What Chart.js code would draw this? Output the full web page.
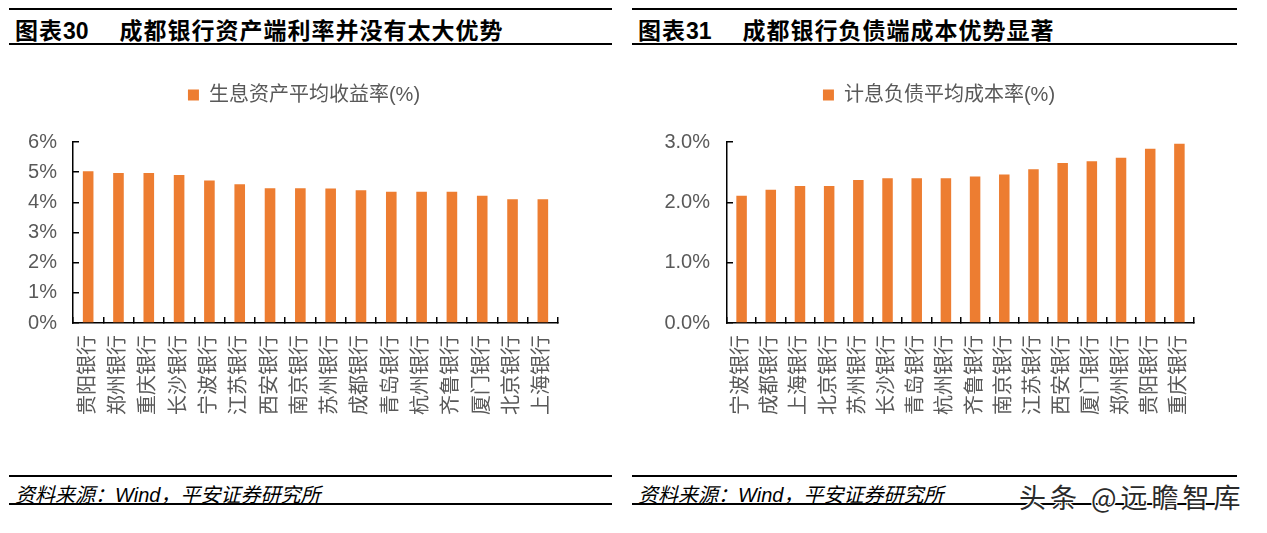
<!DOCTYPE html>
<html>
<head>
<meta charset="utf-8">
<script src="https://cdn.jsdelivr.net/npm/chart.js@4"></script>
<style>
  body { margin: 0; background: #fff; width: 1267px; height: 533px; position: relative; overflow: hidden; }
  .rule { position: absolute; height: 2px; background: #000; }
  .title { position: absolute; top: 12px; font: bold 23px "Noto Sans CJK SC", sans-serif; letter-spacing: 1px; color: #000; white-space: nowrap; }
  .title .num { font-family: "Liberation Sans", Arial, sans-serif; letter-spacing: 0; margin-right: 31px; }
  .src { position: absolute; top: 479px; font: italic 20px "Liberation Sans", "Noto Sans CJK SC", sans-serif; color: #000; white-space: nowrap; }
  .box { position: absolute; top: 60px; height: 380px; }
  .mark { position: absolute; left: 1019px; top: 477px; font: 27px "Noto Sans CJK SC", sans-serif; letter-spacing: 4px; color: #2a2a2a;
          text-shadow: 1px 1px 0 #fff, -1px -1px 0 #fff, 1px -1px 0 #fff, -1px 1px 0 #fff; white-space: nowrap; }
</style>
</head>
<body>
<div class="rule" style="left:9px;width:603px;top:8px"></div>
<div class="title" style="left:15px">图表<span class="num">30</span>成都银行资产端利率并没有太大优势</div>
<div class="rule" style="left:9px;width:603px;top:43px"></div>

<div class="rule" style="left:632px;width:605px;top:8px"></div>
<div class="title" style="left:638px">图表<span class="num">31</span>成都银行负债端成本优势显著</div>
<div class="rule" style="left:632px;width:605px;top:43px"></div>

<div class="box" style="left:0;width:620px"><canvas id="assetChart" width="620" height="380"></canvas></div>
<div class="box" style="left:620px;width:647px"><canvas id="costChart" width="647" height="380"></canvas></div>

<div class="rule" style="left:9px;width:603px;top:475px"></div>
<div class="src" style="left:15px">资料来源：Wind，平安证券研究所</div>
<div class="rule" style="left:9px;width:603px;top:503px"></div>

<div class="rule" style="left:632px;width:605px;top:475px"></div>
<div class="src" style="left:638px">资料来源：Wind，平安证券研究所</div>
<div class="rule" style="left:632px;width:605px;top:503px"></div>

<div class="mark">头条 @远瞻智库</div>

<script>
// 图表30 生息资产平均收益率
const assetBanks = ['贵阳银行', '郑州银行', '重庆银行', '长沙银行', '宁波银行', '江苏银行', '西安银行', '南京银行',
    '苏州银行', '成都银行', '青岛银行', '杭州银行', '齐鲁银行', '厦门银行', '北京银行', '上海银行'];
const assetYield = [5.03, 4.97, 4.97, 4.91, 4.72, 4.60, 4.47, 4.47, 4.46, 4.40, 4.35, 4.35, 4.35, 4.22, 4.10, 4.10];
const assetTicks = [0, 1, 2, 3, 4, 5, 6];

// 图表31 计息负债平均成本率
const costBanks = ['宁波银行', '成都银行', '上海银行', '北京银行', '苏州银行', '长沙银行', '青岛银行', '杭州银行',
    '齐鲁银行', '南京银行', '江苏银行', '西安银行', '厦门银行', '郑州银行', '贵阳银行', '重庆银行'];
const costRate = [2.11, 2.21, 2.27, 2.27, 2.37, 2.40, 2.40, 2.40, 2.43, 2.46, 2.55, 2.65, 2.68, 2.74, 2.89, 2.97];
const costTicks = [0, 1, 2, 3];

const ORANGE = '#ED7D31';
const GREY = '#595959';
const CJK = '"Liberation Sans", "Noto Sans CJK SC", sans-serif';

// legend sits well above the plot and a bit right of the box centre
const legendGap = {
    id: 'legendGap',
    beforeInit(chart) {
        const fit = chart.legend.fit;
        chart.legend.fit = function () {
            fit.bind(chart.legend)();
            this.height += 27;
        };
    },
    afterLayout(chart, args, opts) {
        chart.legend.left += opts.shift;
        chart.legend.right += opts.shift;
    }
};

function makeChart(id, labels, values, name, ticks, opts) {
    const ctx = document.getElementById(id).getContext('2d');
    return new Chart(ctx, {
        type: 'bar',
        data: {
            labels: labels,
            datasets: [{
                label: name,
                data: values,
                backgroundColor: ORANGE,
                barPercentage: opts.bar,
                categoryPercentage: 1
            }]
        },
        options: {
            responsive: false,
            animation: false,
            layout: { padding: { left: 0, right: opts.padRight, top: 15, bottom: 17 } },
            plugins: {
                legendGap: { shift: opts.shift },
                legend: {
                    labels: {
                        boxWidth: 11, boxHeight: 11, padding: 10,
                        color: GREY, font: { size: 20, family: CJK }
                    }
                },
                tooltip: { enabled: false }
            },
            scales: {
                x: {
                    border: { color: '#000', width: 1.5 },
                    grid: { drawOnChartArea: false, color: '#000', tickLength: -6, lineWidth: 1.5 },
                    ticks: {
                        autoSkip: false, minRotation: 90, maxRotation: 90, padding: 18,
                        color: GREY, font: { size: 20, family: CJK }
                    },
                    afterFit: function (scale) { scale.height = 100; }
                },
                y: {
                    min: ticks[0],
                    max: ticks[ticks.length - 1],
                    afterBuildTicks: function (scale) { scale.ticks = ticks.map(v => ({ value: v })); },
                    border: { color: '#000', width: 1.5 },
                    grid: { drawOnChartArea: false, color: '#000', tickLength: -6, lineWidth: 1.5 },
                    ticks: {
                        padding: opts.tickPad,
                        color: GREY,
                        font: { size: 20, family: '"Liberation Sans", sans-serif' },
                        callback: v => v.toFixed(opts.digits) + '%'
                    },
                    afterFit: function (scale) { scale.width = opts.axisWidth; }
                }
            }
        },
        plugins: [legendGap]
    });
}

makeChart('assetChart', assetBanks, assetYield, '生息资产平均收益率(%)', assetTicks,
    { bar: 0.35, padRight: 62, axisWidth: 73, tickPad: 22, digits: 0, shift: 25 });
makeChart('costChart', costBanks, costRate, '计息负债平均成本率(%)', costTicks,
    { bar: 0.36, padRight: 73, axisWidth: 107, tickPad: 23, digits: 1, shift: 32 });
</script>
</body>
</html>
